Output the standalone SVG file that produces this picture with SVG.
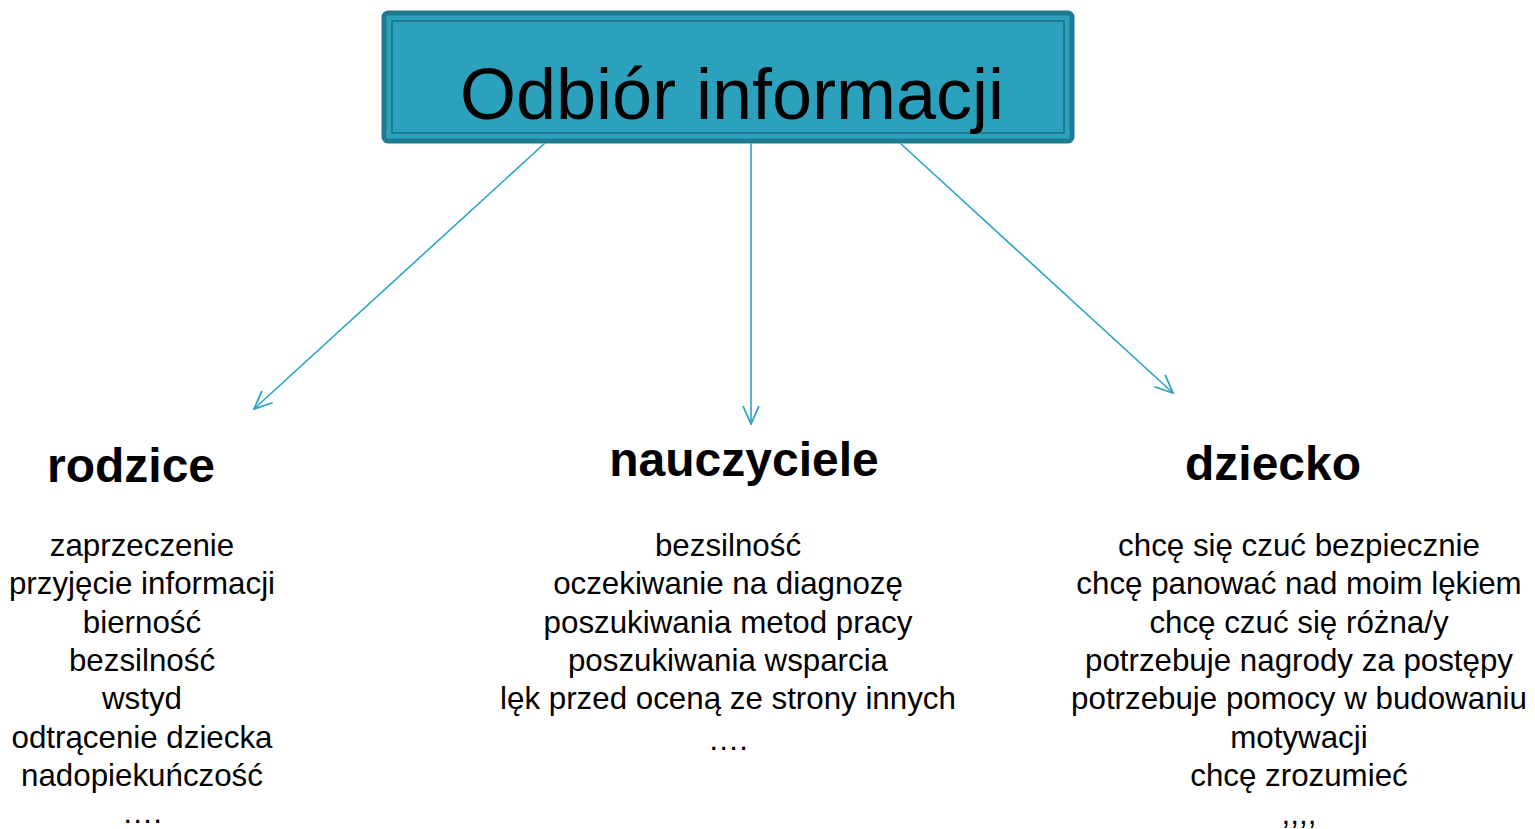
<svg xmlns="http://www.w3.org/2000/svg" width="1535" height="829" viewBox="0 0 1535 829">
<defs>
<style>
.t{font-family:"Liberation Sans",Arial,sans-serif;fill:#000;text-anchor:middle}
.h{font-size:48px;font-weight:bold}
.l{font-size:31.3px}
.c{stroke:#2BA3C1;stroke-width:1.6;fill:none}
</style>
<marker id="ah" viewBox="0 0 20 20" refX="19" refY="10" markerWidth="20" markerHeight="20" markerUnits="userSpaceOnUse" orient="auto">
<path d="M1,2 L19,10 L1,18" fill="none" stroke="#2BA3C1" stroke-width="1.8"/>
</marker>
</defs>
<rect width="1535" height="829" fill="#fff"/>
<g id="title">
<rect x="384" y="13" width="688" height="128" rx="4" fill="#2BA1BE" stroke="#1F7A90" stroke-width="5"/>
<rect x="392" y="21" width="672" height="112" fill="none" stroke="#1F7A90" stroke-width="2"/>
<text class="t" x="732" y="119" font-size="72">Odbiór informacji</text>
</g>
<g id="connectors">
<line class="c" x1="545" y1="143" x2="254" y2="409" marker-end="url(#ah)"/>
<line class="c" x1="751" y1="143" x2="751" y2="424" marker-end="url(#ah)"/>
<line class="c" x1="900" y1="143" x2="1173" y2="393" marker-end="url(#ah)"/>
</g>
<g id="rodzice">
<text class="t h" x="131" y="482">rodzice</text>
<text class="t l" x="142" y="556">zaprzeczenie</text>
<text class="t l" x="142" y="594">przyjęcie informacji</text>
<text class="t l" x="142" y="633">bierność</text>
<text class="t l" x="142" y="671">bezsilność</text>
<text class="t l" x="142" y="709">wstyd</text>
<text class="t l" x="142" y="748">odtrącenie dziecka</text>
<text class="t l" x="142" y="786">nadopiekuńczość</text>
<text class="t l" x="142" y="823">….</text>
</g>
<g id="nauczyciele">
<text class="t h" x="744" y="476">nauczyciele</text>
<text class="t l" x="728" y="556">bezsilność</text>
<text class="t l" x="728" y="594">oczekiwanie na diagnozę</text>
<text class="t l" x="728" y="633">poszukiwania metod pracy</text>
<text class="t l" x="728" y="671">poszukiwania wsparcia</text>
<text class="t l" x="728" y="709">lęk przed oceną ze strony innych</text>
<text class="t l" x="728" y="750">….</text>
</g>
<g id="dziecko">
<text class="t h" x="1273" y="480">dziecko</text>
<text class="t l" x="1299" y="556">chcę się czuć bezpiecznie</text>
<text class="t l" x="1299" y="594">chcę panować nad moim lękiem</text>
<text class="t l" x="1299" y="633">chcę czuć się różna/y</text>
<text class="t l" x="1299" y="671">potrzebuje nagrody za postępy</text>
<text class="t l" x="1299" y="709">potrzebuje pomocy w budowaniu</text>
<text class="t l" x="1299" y="748">motywacji</text>
<text class="t l" x="1299" y="786">chcę zrozumieć</text>
<text class="t l" x="1299" y="824">,,,,</text>
</g>
</svg>
